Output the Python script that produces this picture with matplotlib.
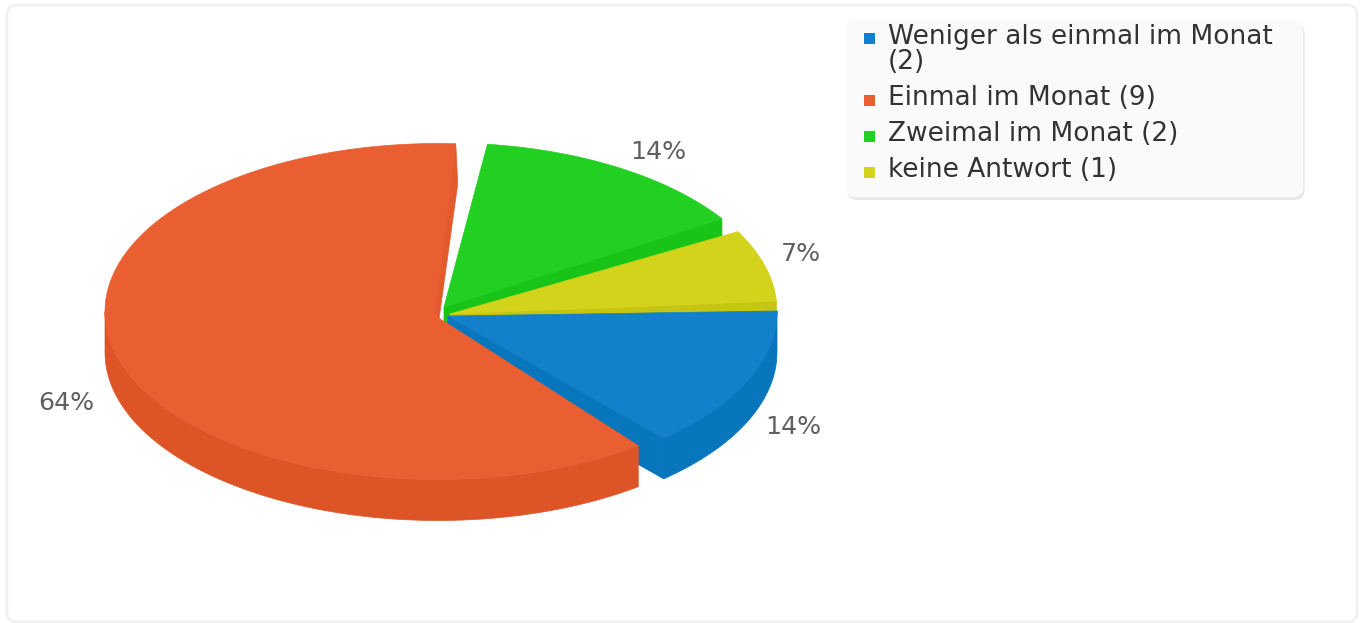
import numpy as np
import matplotlib
matplotlib.use("Agg")
import matplotlib.pyplot as plt
from matplotlib.patches import FancyBboxPatch, Polygon, Rectangle

# Werte
labels = ["Weniger als einmal im Monat\n(2)", "Einmal im Monat (9)", "Zweimal im Monat (2)", "keine Antwort (1)"]
counts = [2, 9, 2, 1]
top_colors = ["#1280CA", "#E95F31", "#22D022", "#D3D31B"]
side_colors = ["#0776BD", "#DD5527", "#19C419", "#C6C612"]

# Geometrie der Torte (Pixel des Bildes)
W, H = 1363, 623
RY = 168
DEPTH = 41
# je Segment: Mittelpunkt, Radius x, Spitze, Winkelkorrektur Anfang/Ende
centers = [(448, 311), (438, 311.5), (447, 311), (448, 311)]
radii = [329, 333, 329, 329]
apexes = [(448, 316), (434, 315), (444, 307), (450, 314)]
angle_fix = [(0, -2.4), (1.6, -9.8), (-5.8, -7.6), (-2.5, -3.4)]
label_pos = [(793, 427), (66, 403), (658, 152), (801, 254)]
draw_order = [2, 3, 0, 1]

fig = plt.figure(figsize=(W / 100, H / 100), dpi=100)
ax = fig.add_axes([0, 0, 1, 1])
ax.set_xlim(0, W)
ax.set_ylim(H, 0)
ax.axis("off")

# Rahmen
ax.add_patch(FancyBboxPatch((7, 5), 1350, 617, boxstyle="round,pad=0,rounding_size=10",
                            fc="white", ec="#F0F0F0", lw=1.8, zorder=0))

shares = np.array(counts) / sum(counts) * 360
starts = np.concatenate([[0], np.cumsum(shares)[:-1]])
total = sum(counts)


def arc(i, a, b):
    t = np.radians(np.linspace(a, b, 120))
    cx, cy = centers[i]
    return np.column_stack([cx + radii[i] * np.cos(t), cy + RY * np.sin(t)])


z = 1
for i in draw_order:
    a = starts[i] + angle_fix[i][0]
    b = starts[i] + shares[i] + angle_fix[i][1]
    top = arc(i, a, b)
    apex = np.array(apexes[i], dtype=float)
    down = np.array([0, DEPTH])
    col = side_colors[i]

    # Seitenwand unten, nur der vordere Teil
    lo, hi = max(a, 0), min(b, 180)
    if hi > lo:
        front = arc(i, lo, hi)
        ax.add_patch(Polygon(np.vstack([front, (front + down)[::-1]]), fc=col, ec=col, lw=0.5, zorder=z))

    # Schnittflaechen
    end = top[-1]
    if i == 1:
        # Orange: schmale Wand an der Spitze oben
        wall = [end, end + np.array([2, 40]), apex + np.array([5, 4]), apex]
        ax.add_patch(Polygon(wall, fc="#E35A2C", ec="#E35A2C", lw=0.5, zorder=z))
    else:
        wall = [apex, end, end + down, apex + down]
        ax.add_patch(Polygon(wall, fc=col, ec=col, lw=0.5, zorder=z))

    ax.add_patch(Polygon(np.vstack([apex, top]), fc=top_colors[i], ec=top_colors[i], lw=0.5, zorder=z + 0.5))
    z += 1

# Prozentwerte
for i, (x, y) in enumerate(label_pos):
    ax.text(x, y, "%d%%" % round(counts[i] / total * 100), ha="center", va="center",
            fontsize=18.2, color="#606060", zorder=10)

# Legende
for off, c in [(3, "#E4E4E4"), (2, "#EBEBEB")]:
    ax.add_patch(FancyBboxPatch((846 + off / 2, 20 + off), 457, 177, boxstyle="round,pad=0,rounding_size=10",
                                fc=c, ec="none", zorder=11))
ax.add_patch(FancyBboxPatch((846, 20), 457, 177, boxstyle="round,pad=0,rounding_size=10",
                            fc="#FAFAFA", ec="none", zorder=12))
square_y = [38.5, 100.5, 136.5, 172.5]
text_y = [50, 98, 134, 170]
for i, name in enumerate(labels):
    ax.add_patch(Rectangle((864, square_y[i] - 5.5), 11, 11, fc=top_colors[i], ec="none", zorder=13))
    if "\n" in name:
        first, second = name.split("\n")
        ax.text(888, 37, first, va="center", fontsize=19, color="#333333", zorder=13)
        ax.text(888, 62, second, va="center", fontsize=19, color="#333333", zorder=13)
    else:
        ax.text(888, text_y[i], name, va="center", fontsize=19, color="#333333", zorder=13)

fig.savefig("out.png", dpi=100, facecolor="white")
